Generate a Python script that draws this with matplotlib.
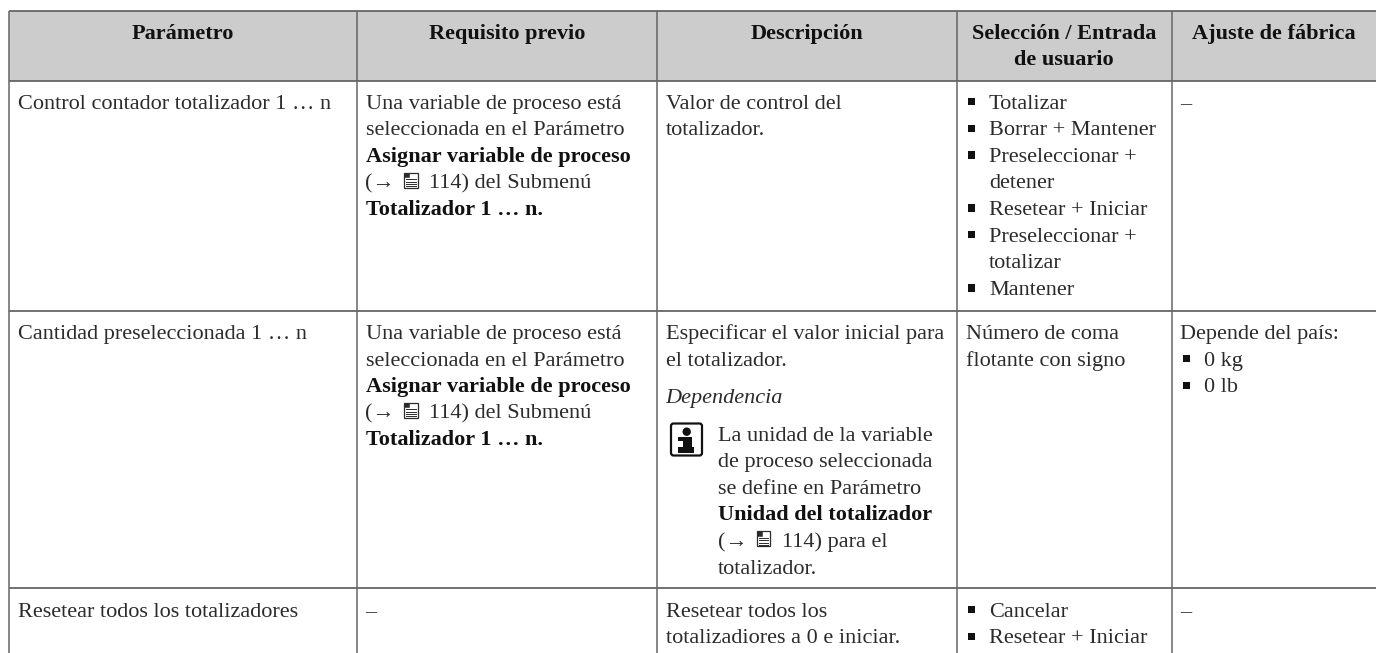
#!/usr/bin/python

'Table of totalizer parameters, drawn in pixel coordinates'
import matplotlib
matplotlib.use('Agg')
import matplotlib.pyplot as plt
from matplotlib.patches import Rectangle, FancyBboxPatch, Circle

plt.rcParams['font.family'] = ['Liberation Serif', 'DejaVu Serif']

W, H = 1376, 653

headers = [['Parámetro'], ['Requisito previo'], ['Descripción'],
           ['Selección / Entrada', 'de usuario'], ['Ajuste de fábrica']]

param_names = ['Control contador totalizador 1 … n',
               'Cantidad preseleccionada 1 … n',
               'Resetear todos los totalizadores']

# "b:" marks a bold line, "d:" a line with the document icon
prereq_lines = ['Una variable de proceso está',
                'seleccionada en el Parámetro',
                'b:Asignar variable de proceso',
                'd:114) del Submenú',
                'b:Totalizador 1 … n.']

desc_row1 = ['Valor de control del', 'totalizador.']
desc_row2 = ['Especificar el valor inicial para', 'el totalizador.']
desc_depend = 'Dependencia'
note_lines = ['La unidad de la variable',
              'de proceso seleccionada',
              'se define en Parámetro',
              'b:Unidad del totalizador',
              'd:114) para el',
              'totalizador.']
desc_row3 = ['Resetear todos los', 'totalizadiores a 0 e iniciar.']

sel_row1 = [('•', 'Totalizar'), ('•', 'Borrar + Mantener'), ('•', 'Preseleccionar +'),
            ('', 'detener'), ('•', 'Resetear + Iniciar'), ('•', 'Preseleccionar +'),
            ('', 'totalizar'), ('•', 'Mantener')]
sel_row2 = ['Número de coma', 'flotante con signo']
sel_row3 = [('•', 'Cancelar'), ('•', 'Resetear + Iniciar')]

default_row2 = 'Depende del país:'
default_units = ['0 kg', '0 lb']
dash = '–'

# layout
col_x = [9, 357, 657, 957, 1171.5, 1376]
row_y = [11, 80.5, 311, 588, 653]
PITCH = 26.6
FS = 16
INK = '#2b2b2b'
LINE = '#666666'

fig = plt.figure(figsize=(W / 100, H / 100), dpi=100)
ax = fig.add_axes([0, 0, 1, 1])
ax.set_xlim(0, W)
ax.set_ylim(H, 0)
ax.axis('off')


def doc_icon(x, base):
    ax.add_patch(Rectangle((x, base - 16), 13.5, 15, fc='white', ec=INK, lw=0.9))
    ax.add_patch(Rectangle((x, base - 16), 5, 4.5, fc=INK, ec=INK, lw=0.4))
    for dy in [9.5, 7, 4.5, 2.5]:
        ax.plot([x + 2, x + 11.5], [base - dy, base - dy], color=INK, lw=0.7)


def put_line(x, y, line):
    if line.startswith('b:'):
        ax.text(x, y, line[2:], fontsize=FS, fontweight='bold', color='#111111', va='baseline')
    elif line.startswith('d:'):
        ax.text(x, y, '(→', fontsize=FS, color=INK, va='baseline')
        doc_icon(x + 38.5, y)
        ax.text(x + 63.5, y, line[2:], fontsize=FS, color=INK, va='baseline')
    else:
        ax.text(x, y, line, fontsize=FS, color=INK, va='baseline')


def put_lines(x, y, lines):
    for i, line in enumerate(lines):
        put_line(x, y + i * PITCH, line)


def put_bullets(col, y, items):
    for i, (mark, line) in enumerate(items):
        if mark:
            ax.add_patch(Rectangle((col + 11, y + i * PITCH - 10.7), 7, 7.3, fc='#111111', ec='none'))
        ax.text(col + 32, y + i * PITCH, line, fontsize=FS, color=INK, va='baseline')


# header band and grid
ax.add_patch(Rectangle((col_x[0], row_y[0]), W - col_x[0], row_y[1] - row_y[0], fc='#cccccc', ec='none'))
for x in col_x[:-1]:
    ax.plot([x, x], [row_y[0], H], color=LINE, lw=1.1, solid_capstyle='butt')
for y in row_y[:-1]:
    ax.plot([col_x[0], W], [y, y], color=LINE, lw=1.3, solid_capstyle='butt')

# header text
for i, hdr in enumerate(headers):
    cx = (col_x[i] + col_x[i + 1]) / 2
    for j, line in enumerate(hdr):
        ax.text(cx, 39 + j * 26, line, fontsize=FS, fontweight='bold', color='#111111',
                ha='center', va='baseline')

base = [108.7, 339, 616.7]
pad = 8.5

for name, y in zip(param_names, base):
    ax.text(col_x[0] + pad, y, name, fontsize=FS, color=INK, va='baseline')

x_pre = col_x[1] + pad
put_lines(x_pre, base[0], prereq_lines)
put_lines(x_pre, base[1], prereq_lines)
ax.text(x_pre, base[2], dash, fontsize=FS, color=INK, va='baseline')

x_desc = col_x[2] + pad
put_lines(x_desc, base[0], desc_row1)
put_lines(x_desc, base[1], desc_row2)
ax.text(x_desc, 402.7, desc_depend, fontsize=FS, style='italic', color=INK, va='baseline')
put_lines(718, 440.7, note_lines)
put_lines(x_desc, base[2], desc_row3)

# info box
ax.add_patch(FancyBboxPatch((671, 423.5), 31, 32, boxstyle='round,pad=0,rounding_size=2.5',
                            fc='white', ec='#111111', lw=1.6))
ax.add_patch(Circle((686.7, 431.7), 4.2, fc='#111111', ec='none'))
ax.add_patch(Rectangle((678, 437), 13.7, 3.7, fc='#111111', ec='none'))
ax.add_patch(Rectangle((682.7, 437), 9, 13, fc='#111111', ec='none'))
ax.add_patch(Rectangle((678, 446.7), 16, 6, fc='#111111', ec='none'))

put_bullets(col_x[3], base[0], sel_row1)
put_lines(col_x[3] + pad, base[1], sel_row2)
put_bullets(col_x[3], base[2], sel_row3)

x_def = col_x[4] + pad
ax.text(x_def, base[0], dash, fontsize=FS, color=INK, va='baseline')
ax.text(x_def, base[1], default_row2, fontsize=FS, color=INK, va='baseline')
put_bullets(col_x[4], base[1] + PITCH, [('•', u) for u in default_units])
ax.text(x_def, base[2], dash, fontsize=FS, color=INK, va='baseline')

fig.savefig('out.png', dpi=100)
